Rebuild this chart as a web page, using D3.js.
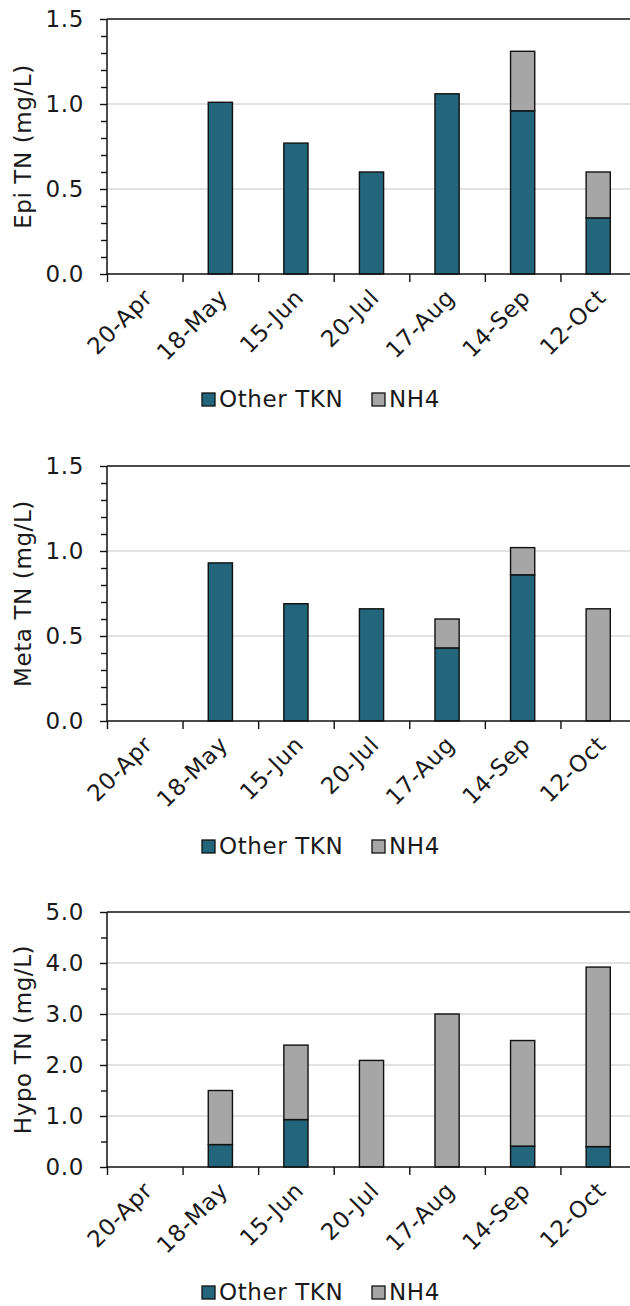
<!DOCTYPE html>
<html>
<head>
<meta charset="utf-8">
<script src="https://cdn.jsdelivr.net/npm/d3@7"></script>
<style>
  html, body { margin: 0; padding: 0; background: #fff; }
  svg { display: block; }
  text { font-family: "DejaVu Sans", sans-serif; fill: #1a1a1a; letter-spacing: 0.6px; }
</style>
</head>
<body>
<div id="chart"></div>
<script>
// ---- Data ----
const dates = ["20-Apr", "18-May", "15-Jun", "20-Jul", "17-Aug", "14-Sep", "12-Oct"];
const seriesNames = ["Other TKN", "NH4"];

const epiOther  = [null, 1.01, 0.77, 0.60, 1.06, 0.96, 0.33];
const epiNH4    = [null, 0,    0,    0,    0,    0.35, 0.27];

const metaOther = [null, 0.93, 0.69, 0.66, 0.43, 0.86, 0];
const metaNH4   = [null, 0,    0,    0,    0.17, 0.16, 0.66];

const hypoOther = [null, 0.44, 0.93, 0,    0,    0.41, 0.40];
const hypoNH4   = [null, 1.06, 1.46, 2.09, 3.00, 2.07, 3.52];

const epiTicks  = [0, 0.5, 1.0, 1.5];
const metaTicks = [0, 0.5, 1.0, 1.5];
const hypoTicks = [0, 1, 2, 3, 4, 5];

const panels = [
  { title: "Epi TN (mg/L)",  other: epiOther,  nh4: epiNH4,  max: 1.5, ticks: epiTicks,  minorStep: 0.1, top: 19 },
  { title: "Meta TN (mg/L)", other: metaOther, nh4: metaNH4, max: 1.5, ticks: metaTicks, minorStep: 0.1, top: 466 },
  { title: "Hypo TN (mg/L)", other: hypoOther, nh4: hypoNH4, max: 5.0, ticks: hypoTicks, minorStep: 0.5, top: 912 }
];

const colors = { "Other TKN": "#23657a", "NH4": "#a6a6a6" };

// ---- Layout ----
const W = 630, H = 1306;
const left = 107, plotW = 529, plotH = 255;
const fs = 23;

const svg = d3.select("#chart").append("svg")
  .attr("width", W).attr("height", H);

const x = d3.scaleBand().domain(dates).range([left, left + plotW])
  .paddingInner(0.68).paddingOuter(0.34);
const xb = d3.scaleLinear().domain([0, dates.length]).range([left, left + plotW]);

panels.forEach(p => {
  const top = p.top, bottom = top + plotH;
  const y = d3.scaleLinear().domain([0, p.max]).range([bottom, top]);
  const g = svg.append("g");

  // gridlines
  g.selectAll("line.grid").data(p.ticks.filter(t => t > 0 && t < p.max)).enter()
    .append("line").attr("class", "grid")
    .attr("x1", left).attr("x2", left + plotW)
    .attr("y1", d => y(d)).attr("y2", d => y(d))
    .attr("stroke", "#d9d9d9").attr("stroke-width", 1.3);

  // top border
  g.append("line")
    .attr("x1", left).attr("x2", left + plotW)
    .attr("y1", y(p.max)).attr("y2", y(p.max))
    .attr("stroke", "#111").attr("stroke-width", 1.4);

  // bars
  const rows = dates.map((d, i) => ({ date: d, other: p.other[i], nh4: p.nh4[i] }))
    .filter(r => r.other !== null);
  const stack = d3.stack().keys(["other", "nh4"])(rows);
  stack.forEach((layer, li) => {
    const name = seriesNames[li];
    g.selectAll(null).data(layer.filter(s => s[1] - s[0] > 0)).enter()
      .append("rect")
      .attr("x", s => x(s.data.date))
      .attr("width", x.bandwidth())
      .attr("y", s => y(s[1]))
      .attr("height", s => y(s[0]) - y(s[1]))
      .attr("fill", colors[name])
      .attr("stroke", "#111").attr("stroke-width", 1.4);
  });

  // y axis minor
  const minorVals = d3.range(0, p.max + 1e-9, p.minorStep)
    .map(v => +v.toFixed(2)).filter(v => !p.ticks.some(t => Math.abs(t - v) < 1e-6));
  const yMinor = g.append("g").attr("transform", `translate(${left},0)`)
    .call(d3.axisLeft(y).tickValues(minorVals).tickSize(6).tickFormat(""));
  yMinor.select(".domain").remove();
  yMinor.selectAll("line").attr("stroke", "#111").attr("stroke-width", 1.4);

  // y axis major
  const yAxis = g.append("g").attr("transform", `translate(${left},0)`)
    .call(d3.axisLeft(y).tickValues(p.ticks).tickSize(7).tickPadding(16).tickFormat(d3.format(".1f")));
  yAxis.select(".domain").attr("stroke", "#111").attr("stroke-width", 1.5)
    .attr("d", `M0,${top}V${bottom}`);
  yAxis.selectAll("line").attr("stroke", "#111").attr("stroke-width", 1.4);
  yAxis.selectAll("text").attr("font-size", fs).attr("fill", "#1a1a1a")
    .attr("font-family", "DejaVu Sans, sans-serif");

  // x axis
  const xAxis = g.append("g").attr("transform", `translate(0,${bottom})`)
    .call(d3.axisBottom(xb).tickValues(d3.range(0, dates.length + 1)).tickSize(8).tickFormat(""));
  xAxis.select(".domain").attr("stroke", "#111").attr("stroke-width", 1.5)
    .attr("d", `M${left},0H${left + plotW}`);
  xAxis.selectAll("line").attr("stroke", "#111").attr("stroke-width", 1.4);

  // x labels rotated
  g.selectAll(null).data(dates).enter().append("text")
    .attr("transform", d => `translate(${x(d) + x.bandwidth() / 2 + 9},${bottom + 25}) rotate(-45)`)
    .attr("text-anchor", "end")
    .attr("font-size", fs)
    .text(d => d);

  // y title
  g.append("text")
    .attr("transform", `translate(31,${(top + bottom) / 2}) rotate(-90)`)
    .attr("text-anchor", "middle")
    .attr("font-size", fs)
    .text(p.title);

  // legend
  const ly = bottom + 119;
  const legendX = [202, 372];
  seriesNames.forEach((name, i) => {
    g.append("rect").attr("x", legendX[i]).attr("y", ly)
      .attr("width", 13).attr("height", 13)
      .attr("fill", colors[name]).attr("stroke", "#111").attr("stroke-width", 1.3);
    g.append("text").attr("x", legendX[i] + 17).attr("y", ly + 14)
      .attr("font-size", fs).text(name);
  });
});
</script>
</body>
</html>
